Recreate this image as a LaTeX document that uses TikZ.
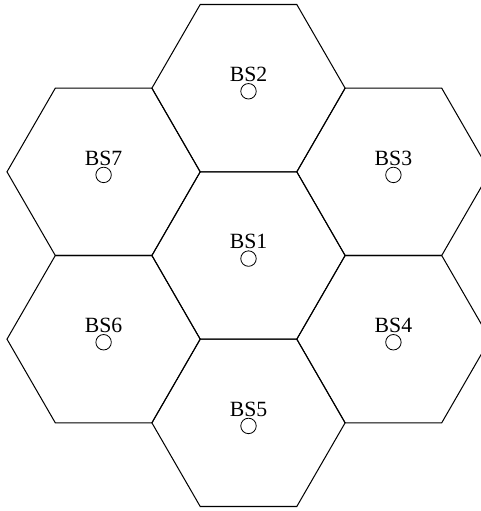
\documentclass[tikz,border=0pt]{standalone}
\usepackage{fontspec}
\setmainfont{Liberation Serif}
\usetikzlibrary{positioning}

\tikzset{
  celda/.style={line width=0.75pt, line join=miter},
  bs/.style={draw, circle, line width=0.6pt, minimum size=0.4cm, inner sep=0pt},
  etiqueta/.style={inner sep=0pt, font=\fontsize{16}{16}\selectfont}
}

\begin{document}
\begin{tikzpicture}
    \def\R{2.5}
    \useasboundingbox (-6.431,-6.612) rectangle (5.991,6.612);

    % Definir los centros de las celdas
    \coordinate (C1) at (0,0);
    \coordinate (C2) at (0,{sqrt(3)*\R});
    \coordinate (C3) at ({1.5*\R},{sqrt(3)*\R/2});
    \coordinate (C4) at ({1.5*\R},{-sqrt(3)*\R/2});
    \coordinate (C5) at (0,{-sqrt(3)*\R});
    \coordinate (C6) at ({-1.5*\R},{-sqrt(3)*\R/2});
    \coordinate (C7) at ({-1.5*\R},{sqrt(3)*\R/2});

    % Dibujar los hexagonos
    \foreach \i in {1,...,7}
        \draw[celda, shift={(C\i)}] (0:\R) -- (60:\R) -- (120:\R) -- (180:\R) -- (240:\R) -- (300:\R) -- cycle;

    % Marcar las estaciones base
    \foreach \i in {1,...,7} {
        \node[bs] (bs\i) at ([yshift=-0.08cm]C\i) {};
        \node[etiqueta, above=0.03cm of bs\i] (lbl\i) {BS\i};
    }

\end{tikzpicture}
\end{document}
